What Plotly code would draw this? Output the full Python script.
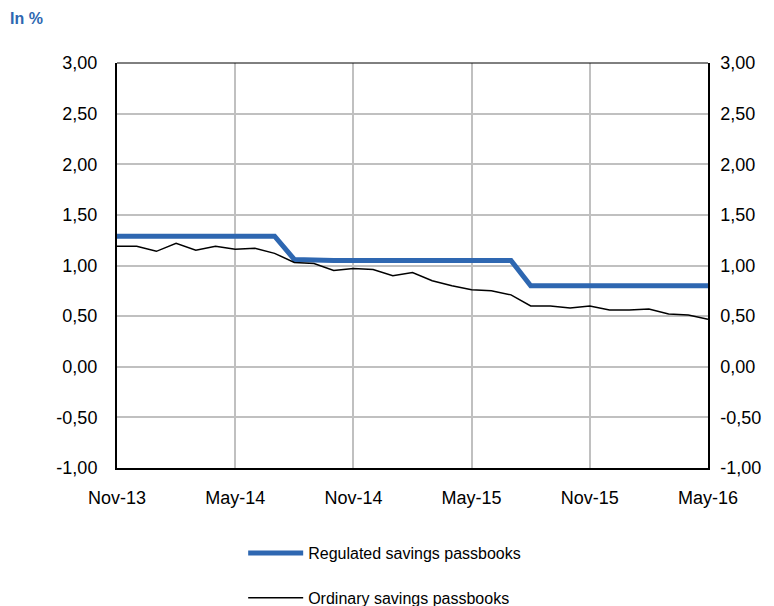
import plotly.graph_objects as go

# monthly categories Nov-13 .. May-16
months = ["Nov-13", "Dec-13", "Jan-14", "Feb-14", "Mar-14", "Apr-14", "May-14",
          "Jun-14", "Jul-14", "Aug-14", "Sep-14", "Oct-14", "Nov-14",
          "Dec-14", "Jan-15", "Feb-15", "Mar-15", "Apr-15", "May-15",
          "Jun-15", "Jul-15", "Aug-15", "Sep-15", "Oct-15", "Nov-15",
          "Dec-15", "Jan-16", "Feb-16", "Mar-16", "Apr-16", "May-16"]

regulated = [1.29, 1.29, 1.28, 1.29, 1.29, 1.28, 1.29, 1.29, 1.29,
             1.06, 1.05, 1.05, 1.05, 1.05, 1.05, 1.05, 1.05, 1.05,
             1.05, 1.05, 1.05, 0.80, 0.80, 0.80, 0.80, 0.80, 0.80,
             0.80, 0.80, 0.80, 0.80]

ordinary = [1.19, 1.19, 1.14, 1.22, 1.15, 1.19, 1.16, 1.17, 1.12,
            1.03, 1.02, 0.95, 0.97, 0.96, 0.90, 0.93, 0.85, 0.80,
            0.76, 0.75, 0.71, 0.60, 0.60, 0.58, 0.60, 0.56, 0.56,
            0.57, 0.52, 0.51, 0.47]

tick_months = ["Nov-13", "May-14", "Nov-14", "May-15", "Nov-15", "May-16"]
y_ticks = [-1.0, -0.5, 0.0, 0.5, 1.0, 1.5, 2.0, 2.5, 3.0]
y_labels = ["-1,00", "-0,50", "0,00", "0,50", "1,00", "1,50", "2,00", "2,50", "3,00"]

fig = go.Figure()
fig.add_trace(go.Scatter(x=months, y=regulated, mode="lines",
                         name="Regulated savings passbooks",
                         line=dict(color="#2e67b1", width=5),
                         legendgroup="a"))
fig.add_trace(go.Scatter(x=months, y=ordinary, mode="lines",
                         name="Ordinary savings passbooks",
                         line=dict(color="black", width=1.5),
                         legendgroup="b"))
# dummy trace so the right axis gets drawn
fig.add_trace(go.Scatter(x=months, y=ordinary, yaxis="y2", mode="lines",
                         line=dict(width=0), opacity=0, showlegend=False,
                         hoverinfo="skip"))

# page body has an 8px margin, so the figure is a bit smaller than the window
fig.update_layout(
    width=766, height=598,
    margin=dict(l=109, r=66, t=55, b=138, autoexpand=False),
    plot_bgcolor="white", paper_bgcolor="white",
    font=dict(family="Liberation Sans, Arial", size=18, color="black"),
    xaxis=dict(type="category", range=[0, 30], tickvals=tick_months,
               automargin=False,
               showgrid=True, gridcolor="#c0c0c0", gridwidth=2,
               showline=True, linecolor="black", linewidth=2,
               ticks="outside", ticklen=12, tickcolor="rgba(0,0,0,0)"),
    yaxis=dict(range=[-1, 3], tickvals=y_ticks, ticktext=y_labels,
               automargin=False,
               showgrid=True, gridcolor="#c0c0c0", gridwidth=2,
               zeroline=False, showline=True, linecolor="black",
               linewidth=2, ticks="outside", ticklen=14,
               tickcolor="rgba(0,0,0,0)"),
    yaxis2=dict(range=[-1, 3], tickvals=y_ticks, ticktext=y_labels,
                automargin=False,
                overlaying="y", side="right", showgrid=False,
                zeroline=False, showline=True, linecolor="black",
                linewidth=1.5, ticks="outside", ticklen=7,
                tickcolor="rgba(0,0,0,0)"),
    legend=dict(x=0.2135, y=-0.168, xanchor="left", yanchor="top",
                orientation="v", tracegroupgap=21, itemwidth=55,
                font=dict(size=16)),
    shapes=[dict(type="line", xref="paper", yref="paper", x0=0, x1=1,
                 y0=1, y1=1, line=dict(color="black", width=1))],
    annotations=[dict(text="<b>In %</b>", xref="paper", yref="paper",
                      x=-0.184, y=1.111, xanchor="left", yanchor="middle",
                      showarrow=False,
                      font=dict(size=16, color="#2e67b1"))],
)

fig.write_html("out.html")
